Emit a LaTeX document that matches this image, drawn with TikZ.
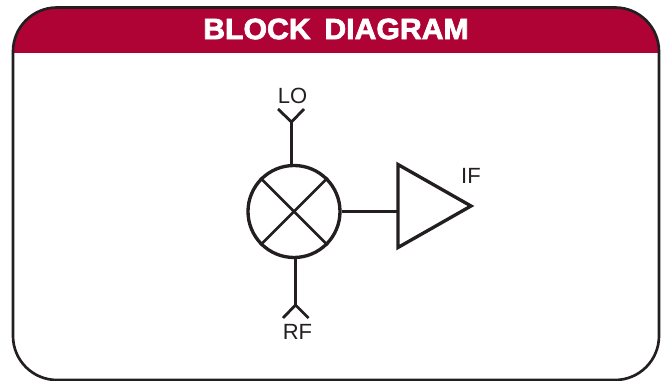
\documentclass[tikz,border=0pt]{standalone}
\usepackage{fontspec}
\setmainfont{Liberation Sans}
\newfontfamily\titlefont[FakeStretch=1.03,FakeBold=2.5]{Liberation Sans Bold}
\definecolor{bandred}{HTML}{B00335}
\definecolor{inkgray}{HTML}{231F20}
\usetikzlibrary{positioning}
\tikzset{x=0.75pt, y=-0.75pt,
    wire/.style={draw=inkgray, line width=2.5pt},
    thinwire/.style={draw=inkgray, line width=2.1pt},
    portlabel/.style={inner sep=0pt, text=inkgray, font=\fontsize{16.5}{18}\selectfont}}

\begin{document}
\begin{tikzpicture}
    \useasboundingbox (0,0) rectangle (661,381);
    \begin{scope}
        \clip[rounded corners=33pt] (13,7.5) rectangle (659,380);
        \fill[bandred] (13,7.5) rectangle (659,53);
    \end{scope}
    \draw[draw=inkgray, line width=2pt, rounded corners=33pt] (13,7.5) rectangle (659,380);
    \node[inner sep=0pt, text=white, font=\titlefont\fontsize{22}{24}\selectfont] (title) at (336,29) {BLOCK\hspace{4pt} DIAGRAM};
    % mixer
    \node[circle, wire, inner sep=0pt, minimum size=69pt] (mixer) at (294,211.5) {};
    \draw[thinwire] (mixer.135) -- (mixer.-45)
        (mixer.45) -- (mixer.-135);
    % LO port
    \coordinate (lo-left) at (278,109);
    \coordinate (lo-right) at (304,109);
    \coordinate (lo-tip) at (291.5,122);
    \coordinate (lo-in) at (291.5,164);
    \draw[wire] (lo-in) -- (lo-tip);
    \draw[thinwire] (lo-left) -- (lo-tip) -- (lo-right);
    \node[portlabel] (lo) at (292.5,96) {LO};
    % RF port
    \coordinate (rf-left) at (283,318);
    \coordinate (rf-right) at (308.5,318);
    \coordinate (rf-tip) at (295.5,305);
    \coordinate (rf-in) at (295.5,257);
    \draw[wire] (rf-in) -- (rf-tip);
    \draw[thinwire] (rf-left) -- (rf-tip) -- (rf-right);
    \node[portlabel] (rf) at (297.5,332) {RF};
    % amplifier
    \coordinate (amp-top) at (398,164.5);
    \coordinate (amp-bottom) at (398,247.5);
    \coordinate (amp-out) at (471,206);
    \draw[wire, line join=miter] (amp-top) -- (amp-out) -- (amp-bottom) -- cycle;
    \draw[wire] (mixer.east) -- (mixer.east -| amp-top);
    \node[portlabel] (if) at (471,176) {IF};
\end{tikzpicture}
\end{document}
